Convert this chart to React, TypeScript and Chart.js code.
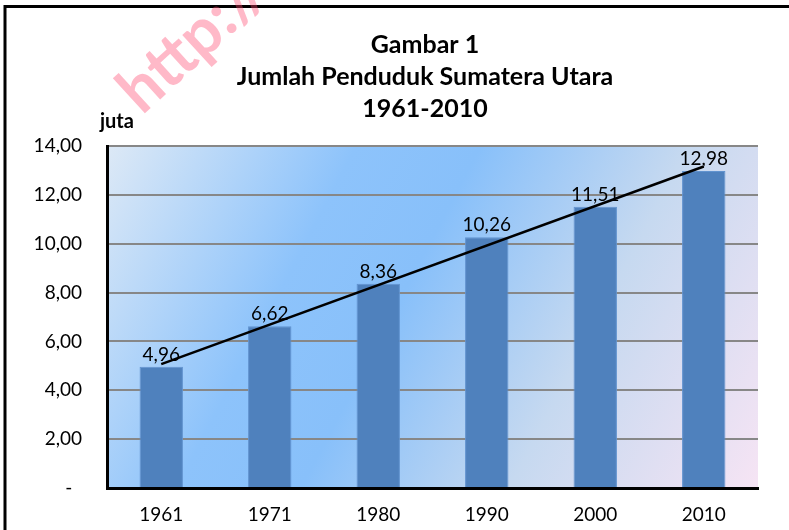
import React, { useEffect, useRef } from "react";
import { Chart, registerables } from "chart.js";

Chart.register(...registerables);

const categories = ["1961", "1971", "1980", "1990", "2000", "2010"];
const populationValues = [4.96, 6.62, 8.36, 10.26, 11.51, 12.98];
// linear trendline endpoints (first and last category)
const trendValues = [5.07, null, null, null, null, 13.16];
const titleLines = ["Gambar 1", "Jumlah Penduduk Sumatera Utara", "1961-2010"];
const unitLabel = "juta";
const watermarkText = "http://sumut.bps.go.id";

const FONT = "Lato, 'Open Sans', sans-serif";

function fmt(v: number): string {
  if (v === 0) return "-  ";
  return v.toFixed(2).replace(".", ",");
}

const decorPlugin = {
  id: "decor",
  beforeDraw(chart: any) {
    const { ctx, chartArea } = chart;
    const { left, top, right, bottom } = chartArea;
    ctx.save();
    const g = ctx.createLinearGradient(left, top, right, bottom);
    g.addColorStop(0, "#dde9f6");
    g.addColorStop(0.3, "#8dc3fb");
    g.addColorStop(0.45, "#88c0fa");
    g.addColorStop(0.7, "#c6d9f0");
    g.addColorStop(1, "#f6e4f4");
    ctx.fillStyle = g;
    ctx.fillRect(left, top, right - left, bottom - top);
    ctx.restore();
  },
  afterDraw(chart: any) {
    const { ctx } = chart;
    const xs = chart.scales.x;
    const ys = chart.scales.y;
    ctx.save();
    // frame
    ctx.strokeStyle = "#000";
    ctx.lineWidth = 3;
    ctx.beginPath();
    ctx.moveTo(5, 540);
    ctx.lineTo(5, 6.5);
    ctx.lineTo(800, 6.5);
    ctx.stroke();

    // title
    ctx.fillStyle = "#000";
    ctx.textAlign = "center";
    ctx.textBaseline = "alphabetic";
    ctx.font = `bold 25px ${FONT}`;
    const baselines = [53, 85, 117];
    titleLines.forEach((t, i) => ctx.fillText(t, 425, baselines[i]));

    // unit label
    ctx.textAlign = "left";
    ctx.font = `bold 20px ${FONT}`;
    ctx.fillText(unitLabel, 100, 128);

    // data labels
    ctx.textAlign = "center";
    ctx.font = `19px ${FONT}`;
    populationValues.forEach((v, i) => {
      const x = xs.getPixelForValue(i);
      const y = ys.getPixelForValue(v);
      ctx.fillText(fmt(v), x, y - 6);
    });

    // watermark
    ctx.translate(142, 116);
    ctx.rotate(-0.74);
    ctx.fillStyle = "rgba(255, 70, 110, 0.38)";
    ctx.font = `bold 64px ${FONT}`;
    ctx.textAlign = "left";
    ctx.fillText(watermarkText, 0, 0);
    ctx.restore();
  },
};

export default function App() {
  const ref = useRef<HTMLCanvasElement>(null);
  useEffect(() => {
    if (!ref.current) return;
    const chart = new Chart(ref.current, {
      data: {
        labels: categories,
        datasets: [
          {
            type: "line",
            data: trendValues,
            borderColor: "#000",
            borderWidth: 2.5,
            pointRadius: 0,
            spanGaps: true,
            order: 0,
          } as any,
          {
            type: "bar",
            data: populationValues,
            backgroundColor: "#4f81bd",
            borderColor: "#6193cf",
            borderWidth: 1,
            barPercentage: 0.4,
            categoryPercentage: 1,
            order: 1,
          } as any,
        ],
      },
      options: {
        responsive: false,
        animation: false,
        devicePixelRatio: 1,
        layout: { padding: { left: 0, top: 146, right: 31, bottom: 0 } },
        plugins: { legend: { display: false }, tooltip: { enabled: false }, title: { display: false } },
        scales: {
          x: {
            grid: { display: false, drawTicks: false },
            border: { display: true, color: "#000", width: 3 },
            ticks: { color: "#000", font: { family: FONT, size: 19 }, padding: 15, maxRotation: 0 },
            afterFit: (s: any) => {
              s.height = 42;
            },
          },
          y: {
            min: 0,
            max: 14,
            grid: { color: "#878787", lineWidth: 2, drawTicks: false },
            border: { display: true, color: "#000", width: 3 },
            ticks: {
              stepSize: 2,
              color: "#000",
              font: { family: FONT, size: 19 },
              padding: 25,
              callback: (v: any) => fmt(Number(v)),
            },
            afterFit: (s: any) => {
              s.width = 107;
            },
          },
        },
      } as any,
      plugins: [decorPlugin],
    });
    return () => chart.destroy();
  }, []);
  return (
    <div style={{ position: "absolute", left: 0, top: 0, width: 789, height: 530, background: "#fff" }}>
      <canvas ref={ref} width={789} height={530} style={{ display: "block" }} />
    </div>
  );
}
